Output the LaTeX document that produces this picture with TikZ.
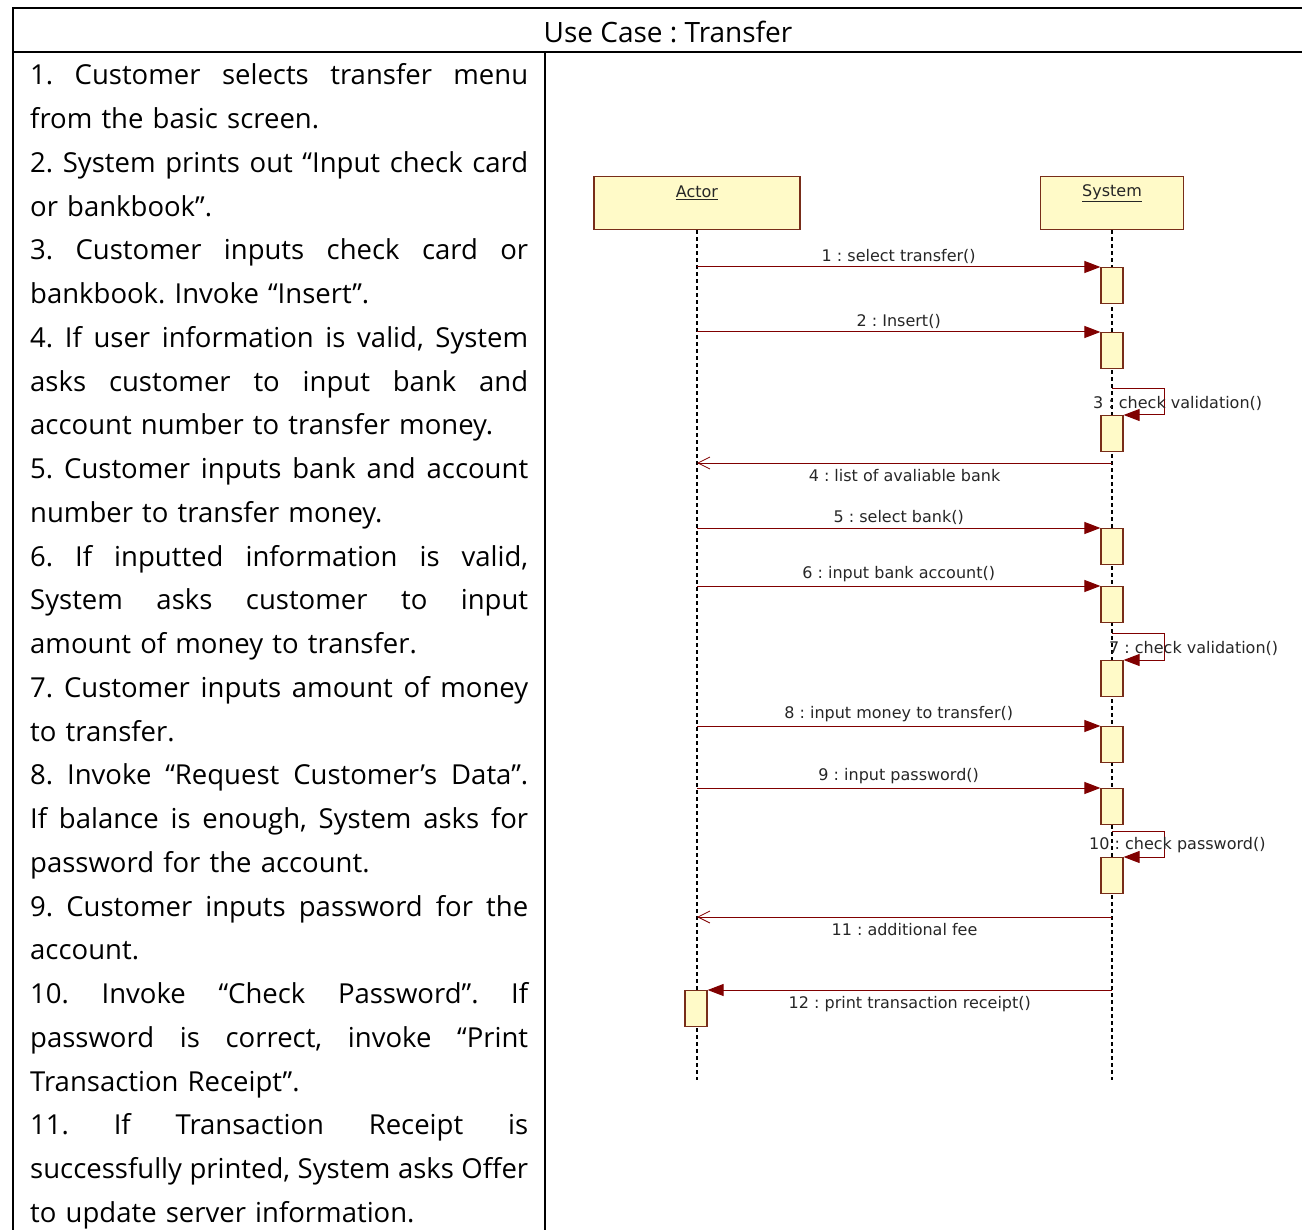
\documentclass[tikz,border=0pt]{standalone}
\usepackage{fontspec}
\setmainfont{Open Sans}
\newfontfamily\umlfont{DejaVu Sans}
\usetikzlibrary{arrows.meta}

\definecolor{umlfill}{RGB}{255,250,200}
\definecolor{umlborder}{RGB}{120,45,25}
\definecolor{umlline}{RGB}{128,0,0}

% justified line: the font's own stretchable spaces, spread over the column
\newcommand{\stretchline}[1]{{\spaceskip=0pt\xspaceskip=0pt\makebox[498pt][s]{#1}}}

\begin{document}
\frenchspacing
\begin{tikzpicture}[x=1pt,y=-1pt,
 obj/.style={draw=umlborder,fill=umlfill,line width=1.2pt,minimum width=#1,minimum height=53pt,inner sep=0pt},
 actbox/.style={draw=umlborder,fill=umlfill,line width=1.2pt,minimum width=22pt,minimum height=36pt,inner sep=0pt,anchor=north},
 msg/.style={font=\umlfont\fontsize{16}{18}\selectfont,text=black!85},
 call/.style={draw=umlline,line width=1pt,-{Triangle[length=16pt,width=12pt]}},
 reply/.style={draw=umlline,line width=0.8pt,-{Straight Barb[length=12pt,width=12pt]}},
 lifeline/.style={dash pattern=on 4pt off 3pt,line width=1.2pt},
 rule/.style={line width=2.5pt}]

 \useasboundingbox (0,0) rectangle (1302,1230);

% table frame, open at right and bottom
 \draw[rule] (13,1230) -- (13,8) -- (1302,8);
 \draw[rule] (13,52) -- (1302,52);
 \draw[rule] (545,52) -- (545,1230);

 \node[font=\fontsize{28}{32}\selectfont] (title) at (668,32) {Use Case : Transfer};

% left column: the steps
 \node[anchor=base west,inner sep=0pt,text width=498pt,align=left,
   font=\fontsize{27.5}{43.75}\selectfont] (steps) at (30,85) {%
 \stretchline{1. Customer selects transfer menu}\\
 from the basic screen.\\
 \stretchline{2. System prints out “Input check card}\\
 or bankbook”.\\
 \stretchline{3. Customer inputs check card or}\\
 bankbook. Invoke “Insert”.\\
 \stretchline{4. If user information is valid, System}\\
 \stretchline{asks customer to input bank and}\\
 account number to transfer money.\\
 \stretchline{5. Customer inputs bank and account}\\
 number to transfer money.\\
 \stretchline{6. If inputted information is valid,}\\
 \stretchline{System asks customer to input}\\
 amount of money to transfer.\\
 \stretchline{7. Customer inputs amount of money}\\
 to transfer.\\
 \stretchline{8. Invoke “Request Customer’s Data”.}\\
 \stretchline{If balance is enough, System asks for}\\
 password for the account.\\
 \stretchline{9. Customer inputs password for the}\\
 account.\\
 \stretchline{10. Invoke “Check Password”. If}\\
 \stretchline{password is correct, invoke “Print}\\
 Transaction Receipt”.\\
 \stretchline{11. If Transaction Receipt is}\\
 \stretchline{successfully printed, System asks Offer}\\
 to update server information.};

% right column: sequence diagram
 \node[obj=206pt] (actor) at (697,203) {};
 \node[obj=143pt] (system) at (1112,203) {};
 \node[msg] (actorname) at ([yshift=-17pt]actor.north) {\underline{Actor}};
 \node[msg] (systemname) at ([yshift=-17pt]system.north) {\underline{System}};

 \coordinate (actorend) at (697,1080);
 \coordinate (systemend) at (1112,1080);
 \draw[lifeline] (actor.south) -- (actorend);
 \draw[lifeline] (system.south) -- (systemend);

% activations
 \node[actbox] (act1) at (1112,267) {};
 \node[actbox] (act2) at (1112,332) {};
 \node[actbox] (act3) at (1112,415) {};
 \node[actbox] (act5) at (1112,528) {};
 \node[actbox] (act6) at (1112,586) {};
 \node[actbox] (act7) at (1112,660) {};
 \node[actbox] (act8) at (1112,726) {};
 \node[actbox] (act9) at (1112,788) {};
 \node[actbox] (act10) at (1112,857) {};
 \node[actbox] (act12) at (696,990) {};

% calls from the actor
 \draw[call] (actor.south |- act1.north west) -- (act1.north west) node[msg,midway,above] {1 : select transfer()};
 \draw[call] (actor.south |- act2.north west) -- (act2.north west) node[msg,midway,above] {2 : Insert()};
 \draw[call] (actor.south |- act5.north west) -- (act5.north west) node[msg,midway,above] {5 : select bank()};
 \draw[call] (actor.south |- act6.north west) -- (act6.north west) node[msg,midway,above] {6 : input bank account()};
 \draw[call] (actor.south |- act8.north west) -- (act8.north west) node[msg,midway,above] {8 : input money to transfer()};
 \draw[call] (actor.south |- act9.north west) -- (act9.north west) node[msg,midway,above] {9 : input password()};

% self calls
 \coordinate (loop3) at (1112,389);
 \coordinate (loop7) at (1112,633);
 \coordinate (loop10) at (1112,831);
 \draw[call] (loop3) -- ++(52,0) |- (act3.north east);
 \draw[call] (loop7) -- ++(52,0) |- (act7.north east);
 \draw[call] (loop10) -- ++(52,0) |- (act10.north east);
 \node[msg,anchor=west,inner sep=0pt] (self3) at (1093,403) {3 : check validation()};
 \node[msg,anchor=west,inner sep=0pt] (self7) at (1109,648) {7 : check validation()};
 \node[msg,anchor=west,inner sep=0pt] (self10) at (1089,845) {10 : check password()};

% answers to the actor
 \coordinate (ret4) at (1112,463);
 \coordinate (ret11) at (1112,917);
 \coordinate (ret12) at (1112,990);
 \draw[reply] (ret4) -- (actor.south |- ret4) node[msg,midway,below=3pt] {4 : list of avaliable bank};
 \draw[reply] (ret11) -- (actor.south |- ret11) node[msg,midway,below=3pt] {11 : additional fee};
 \draw[call] (ret12) -- (act12.north east) node[msg,midway,below=3pt] {12 : print transaction receipt()};

\end{tikzpicture}
\end{document}
